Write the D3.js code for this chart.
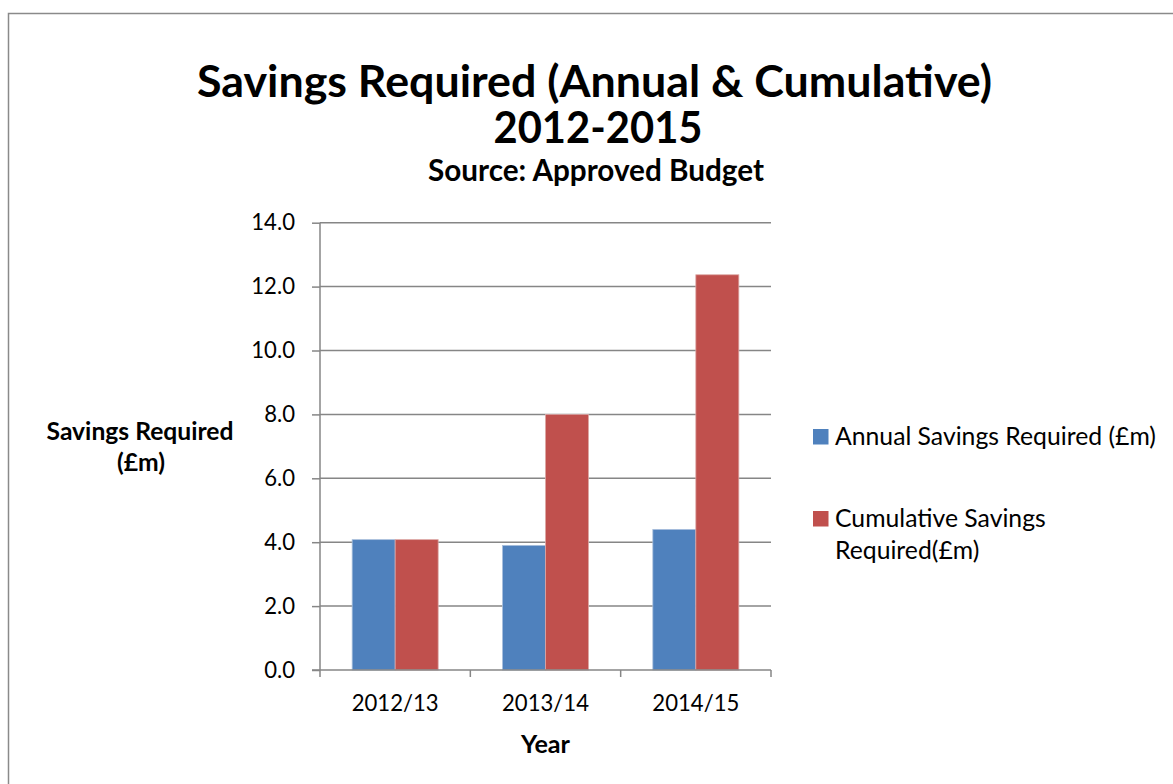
<!DOCTYPE html>
<html>
<head>
<meta charset="utf-8">
<script src="https://cdn.jsdelivr.net/npm/d3@7"></script>
<style>
  html, body { margin: 0; padding: 0; background: #fff; }
  svg { display: block; }
  text { font-family: Lato, "Open Sans", sans-serif; fill: #000; }
</style>
</head>
<body>
<svg id="chart" width="1173" height="784"></svg>
<script>
// ---- data ----
const categories = ["2012/13", "2013/14", "2014/15"];
const seriesNames = ["Annual Savings Required (£m)", "Cumulative Savings Required(£m)"];
const annualSavings = [4.08, 3.90, 4.40];
const cumulativeSavings = [4.08, 8.00, 12.37];
const yTicks = [0, 2, 4, 6, 8, 10, 12, 14];
const colors = ["#4F81BD", "#C0504D"];

const svg = d3.select("#chart");
const gridColor = "#868686";

// outer chart border
svg.append("rect")
  .attr("x", 8.5).attr("y", 13.5)
  .attr("width", 1250).attr("height", 900)
  .attr("fill", "none").attr("stroke", "#8a8a8a").attr("stroke-width", 1.5);

function fit(sel, target) {
  const n = sel.node();
  const fs = parseFloat(sel.attr("font-size"));
  const w = n.getComputedTextLength();
  if (w > 0) sel.attr("font-size", (fs * target / w).toFixed(2));
  return sel;
}
function squeeze(sel, target) {
  sel.attr("textLength", target).attr("lengthAdjust", "spacingAndGlyphs");
  return sel;
}

// titles
squeeze(svg.append("text").attr("x", 594.5).attr("y", 97).attr("text-anchor", "middle")
  .attr("font-size", 43).attr("font-weight", 700)
  .text("Savings Required (Annual & Cumulative)"), 795);
squeeze(svg.append("text").attr("x", 598).attr("y", 143).attr("text-anchor", "middle")
  .attr("font-size", 43).attr("font-weight", 700)
  .text("2012-2015"), 209);
fit(svg.append("text").attr("x", 596).attr("y", 181).attr("text-anchor", "middle")
  .attr("font-size", 24).attr("font-weight", 700)
  .text("Source: Approved Budget"), 336);

// scales
const plot = { left: 320, right: 771, top: 222.7, bottom: 670 };
const x = d3.scaleBand().domain(categories).range([plot.left, plot.right]).padding(0);
const xs = d3.scaleBand().domain([0, 1]).range([0, x.bandwidth()]).paddingInner(0).paddingOuter(0.748);
const y = d3.scaleLinear().domain([0, 14]).range([plot.bottom, plot.top]);

// gridlines
svg.append("g").selectAll("line").data(yTicks.filter(d => d > 0)).join("line")
  .attr("x1", plot.left).attr("x2", plot.right)
  .attr("y1", d => y(d)).attr("y2", d => y(d))
  .attr("stroke", gridColor).attr("stroke-width", 1.5);

// bars
const data = categories.map((c, i) => ({ c, vals: [annualSavings[i], cumulativeSavings[i]] }));
const groups = svg.append("g").selectAll("g").data(data).join("g")
  .attr("transform", d => `translate(${x(d.c)},0)`);
groups.selectAll("rect").data(d => d.vals.map((v, k) => ({ v, k }))).join("rect")
  .attr("x", d => xs(d.k))
  .attr("width", xs.bandwidth())
  .attr("y", d => y(d.v))
  .attr("height", d => y(0) - y(d.v))
  .attr("fill", d => colors[d.k])
  .attr("stroke", d => d.k === 0 ? "#a9bfdc" : "#dca7a5")
  .attr("stroke-width", 0.8);

// x axis labels (sized first, y labels reuse the size)
const xAxis = svg.append("g").attr("transform", `translate(0,${plot.bottom})`)
  .call(d3.axisBottom(x).tickSize(0).tickPadding(25));
xAxis.select(".domain").remove();
xAxis.selectAll(".tick text").attr("font-size", 24).attr("font-family", "Lato, 'Open Sans', sans-serif").attr("fill", "#000");
fit(xAxis.select(".tick text"), 87);
const xfs = xAxis.select(".tick text").attr("font-size");
xAxis.selectAll(".tick text").attr("font-size", xfs);
svg.append("line").attr("x1", plot.left - 8).attr("x2", plot.right)
  .attr("y1", plot.bottom).attr("y2", plot.bottom)
  .attr("stroke", gridColor).attr("stroke-width", 1.5);
const bounds = categories.map(c => x(c)).concat([plot.right]);
svg.append("g").selectAll("line").data(bounds).join("line")
  .attr("x1", d => d).attr("x2", d => d)
  .attr("y1", plot.bottom).attr("y2", plot.bottom + 7)
  .attr("stroke", gridColor).attr("stroke-width", 1.5);

// y axis
const yAxis = svg.append("g").attr("transform", `translate(${plot.left},0)`)
  .call(d3.axisLeft(y).tickValues(yTicks).tickFormat(d3.format(".1f")).tickSize(8).tickPadding(17));
yAxis.select(".domain").attr("stroke", gridColor).attr("stroke-width", 1.5)
  .attr("d", `M0,${plot.top}V${plot.bottom}`);
yAxis.selectAll(".tick line").attr("stroke", gridColor).attr("stroke-width", 1.5);
yAxis.selectAll(".tick text").attr("font-size", xfs).attr("font-family", "Lato, 'Open Sans', sans-serif").attr("fill", "#000");

// axis titles
fit(svg.append("text").attr("x", 545.5).attr("y", 753).attr("text-anchor", "middle")
  .attr("font-size", 22).attr("font-weight", 700).text("Year"), 49);
const yl1 = fit(svg.append("text").attr("x", 140).attr("y", 440).attr("text-anchor", "middle")
  .attr("font-size", 22).attr("font-weight", 700).text("Savings Required"), 187);
svg.append("text").attr("x", 141).attr("y", 471).attr("text-anchor", "middle")
  .attr("font-size", yl1.attr("font-size")).attr("font-weight", 700).text("(£m)");

// legend
const legend = svg.append("g");
legend.append("rect").attr("x", 813).attr("y", 429).attr("width", 15.5).attr("height", 15.5).attr("fill", colors[0]);
const lt = fit(legend.append("text").attr("x", 835).attr("y", 445).attr("font-size", 24).text(seriesNames[0]), 321);
legend.append("rect").attr("x", 813).attr("y", 511).attr("width", 15.5).attr("height", 15.5).attr("fill", colors[1]);
legend.append("text").attr("x", 835).attr("y", 527).attr("font-size", lt.attr("font-size")).text("Cumulative Savings");
legend.append("text").attr("x", 835).attr("y", 559).attr("font-size", lt.attr("font-size")).text("Required(£m)");
</script>
</body>
</html>
